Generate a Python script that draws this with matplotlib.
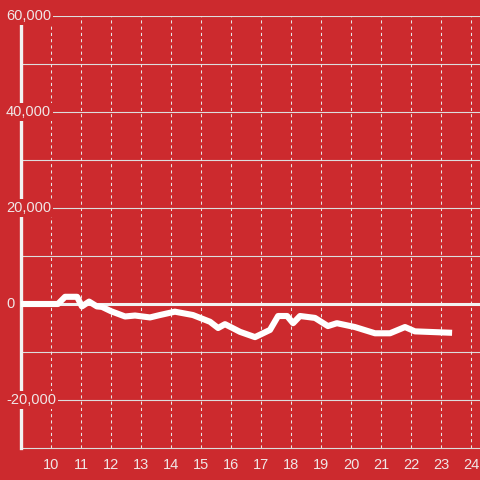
import matplotlib
matplotlib.use("Agg")
import matplotlib.pyplot as plt

# дані
hours = [9.0, 10.23, 10.47, 10.87, 11.03, 11.27, 11.53, 11.7, 12.0, 12.47, 12.8,
         13.3, 13.63, 14.13, 14.73, 15.3, 15.57, 15.8, 16.3, 16.8, 17.3, 17.57,
         17.87, 18.07, 18.3, 18.8, 19.23, 19.53, 20.13, 20.8, 21.3, 21.8, 22.13,
         23.37]
values = [0, 0, 1500, 1500, -500, 500, -500, -600, -1500, -2600, -2400,
          -2800, -2300, -1600, -2300, -3700, -5000, -4200, -5800, -6900, -5400,
          -2500, -2500, -4000, -2500, -2900, -4600, -4000, -4800, -6100, -6100,
          -4800, -5700, -6000]

x_ticks = list(range(10, 25))
y_ticks = [-20000, 0, 20000, 40000, 60000]
y_grid = list(range(-20000, 60001, 10000))

bg = '#cc2a2e'
txt = '#f0e6e6'

fig = plt.figure(figsize=(4.8, 4.8), dpi=100, facecolor=bg)
ax = fig.add_axes([21/480, 32/480, 459/480, 432/480], facecolor=bg)
ax.set_xlim(9, 24.3)
ax.set_ylim(-30000, 60000)

for v in y_grid:
    ax.axhline(v, color='#dddddd', lw=0.8, zorder=1)
for h in x_ticks:
    ax.axvline(h, color='#e6e6e6', lw=0.75, linestyle=(0, (3, 3)), zorder=1)

ax.axhline(0, color='#f2f2f2', lw=2.2, zorder=2)
ax.plot(hours, values, color='white', lw=4.4, solid_joinstyle='round',
        solid_capstyle='butt', zorder=4)

for s in ['top', 'right']:
    ax.spines[s].set_visible(False)
ax.spines['bottom'].set_color('#dddddd')
ax.spines['bottom'].set_linewidth(0.8)
ax.spines['left'].set_color('#f2f2f2')
ax.spines['left'].set_linewidth(2.4)
ax.spines['left'].set_zorder(3)

ax.set_xticks(x_ticks)
ax.set_xticklabels([str(h) for h in x_ticks], color=txt, fontsize=10.5,
                   fontfamily='Liberation Sans')
ax.tick_params(axis='x', length=0, pad=7)
ax.set_yticks([])

trans = ax.get_yaxis_transform()
for v in y_ticks:
    ax.text(-15/459, v, f'{v:,}', transform=trans, ha='left', va='center',
            color=txt, fontsize=10.5, fontfamily='Liberation Sans', zorder=6,
            clip_on=False,
            bbox=dict(boxstyle='square,pad=0.12', facecolor=bg, edgecolor='none'))

fig.savefig('out.png', dpi=100, facecolor=bg)
